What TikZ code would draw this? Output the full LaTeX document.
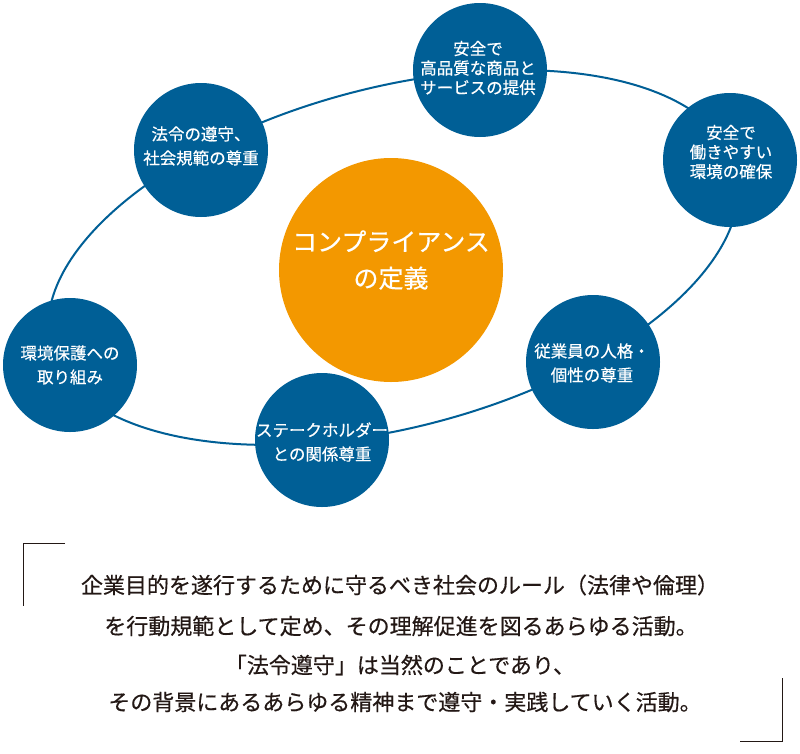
\documentclass[tikz,border=0pt]{standalone}
\usepackage{fontspec}
\newfontfamily\jp{Noto Sans CJK JP}
\newfontfamily\jpm[FakeBold=0.4]{Noto Sans CJK JP}
\definecolor{cblue}{HTML}{005F96}
\definecolor{corange}{HTML}{F39800}
\definecolor{ctext}{HTML}{231815}
\begin{document}
\begin{tikzpicture}[x=1pt,y=-1pt,
  bub/.style={circle, fill=cblue, minimum size=134pt, inner sep=0pt},
  bubtxt/.style={text=white, align=center, inner sep=0pt, font=\jpm\fontsize{16.5}{24}\selectfont},
  bubtxtthree/.style={bubtxt, font=\jpm\fontsize{16.5}{19.5}\selectfont},
  coretxt/.style={text=white, align=center, inner sep=0pt, font=\jpm\fontsize{25}{36.5}\selectfont},
  body/.style={text=ctext, inner sep=0pt, font=\jpm\fontsize{22}{26}\selectfont},
  ring/.style={cblue, line width=2pt},
  bracket/.style={ctext, line width=0.9pt}]
\useasboundingbox (0,0) rectangle (800,753);
\fill[white] (0,0) rectangle (800,753);
% ring
\draw[ring, rotate around={14.7:(393.4,257.5)}] (393.4,257.5) ellipse [x radius=354pt, y radius=170pt];
% centre
\node[circle, fill=corange, minimum size=224pt, inner sep=0pt] (core) at (391,270) {};
\node[coretxt] (coret) at (391,260) {コンプライアンス\\の定義};
% bubbles
\node[bub] (b1) at (480,70) {};
\node[bubtxtthree] (t1) at (478,68) {安全で\\高品質な商品と\\サービスの提供};
\node[bub] (b2) at (201,150) {};
\node[bubtxt] (t2) at (201,146) {法令の遵守、\\社会規範の尊重};
\node[bub] (b3) at (730,160) {};
\node[bubtxtthree] (t3) at (731,152) {安全で\\働きやすい\\環境の確保};
\node[bub] (b4) at (70,365) {};
\node[bubtxt] (t4) at (70,365) {環境保護への\\取り組み};
\node[bub] (b5) at (593,362) {};
\node[bubtxt] (t5) at (592,363) {従業員の人格・\\個性の尊重};
\node[bub] (b6) at (322,440) {};
\node[bubtxt] (t6) at (322,442) {ステークホルダー\\との関係尊重};
% brackets
\coordinate (bk1a) at (65,543);
\coordinate (bk1b) at (23,543);
\coordinate (bk1c) at (23,606);
\coordinate (bk2a) at (782,678);
\coordinate (bk2b) at (782,741);
\coordinate (bk2c) at (740,741);
\draw[bracket] (bk1a) -- (bk1b) -- (bk1c);
\draw[bracket] (bk2a) -- (bk2b) -- (bk2c);
% body text
\node[body] (l1) at (400,585) {企業目的を遂行するために守るべき社会のルール（法律や倫理）};
\node[body] (l2) at (401,626) {を行動規範として定め、その理解促進を図るあらゆる活動。};
\node[body] (l3) at (400,665) {「法令遵守」は当然のことであり、};
\node[body] (l4) at (405,702) {その背景にあるあらゆる精神まで遵守・実践していく活動。};
\end{tikzpicture}
\end{document}
